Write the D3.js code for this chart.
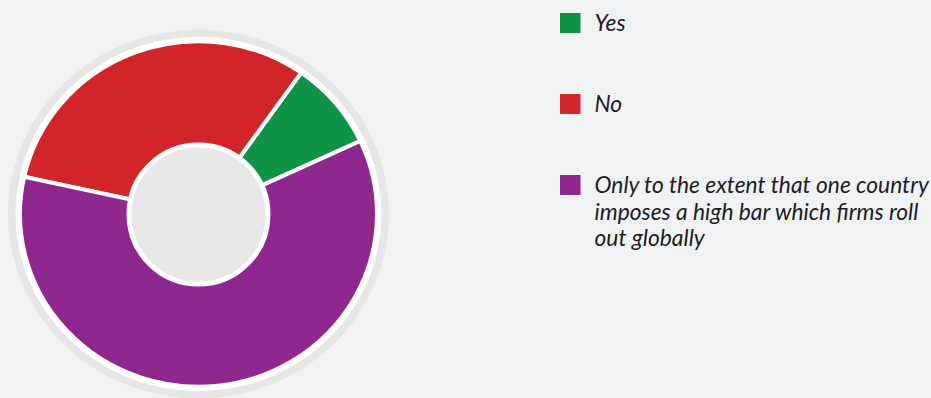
<!DOCTYPE html>
<html>
<head>
<meta charset="utf-8">
<script src="https://cdn.jsdelivr.net/npm/d3@7"></script>
<style>
  body { margin: 0; background: #f1f2f4; }
  svg { display: block; }
  .legend text { font-family: Lato, sans-serif; font-style: italic; font-size: 22.8px; fill: #1d1d1f; }
</style>
</head>
<body>
<div id="chart"></div>
<script>
// answers and their share of responses (%)
const categories = ["Yes", "No", "Only to the extent that one country imposes a high bar which firms roll out globally"];
const values = [8.3, 31.3, 60.4];
const colors = ["#0f9447", "#d1252a", "#8e278e"];

const width = 931, height = 398;
const cx = 198.5, cy = 214;

const svg = d3.select("#chart").append("svg")
    .attr("width", width)
    .attr("height", height);

// the ring is a touch squashed vertically in the original
let ring = svg.append("g")
    .attr("transform", "translate(" + cx + "," + cy + ") scale(1,0.968)");

ring.append("circle").attr("r", 190.5).attr("fill", "#e6e6e7");
ring.append("circle").attr("r", 183).attr("fill", "#ffffff");

let pie = d3.pie()
    .sort(null)
    .startAngle(65 * Math.PI / 180)
    .endAngle((65 - 360) * Math.PI / 180);

let arc = d3.arc()
    .innerRadius(55)
    .outerRadius(178.5);

ring.selectAll(".slice")
    .data(pie(values))
    .enter()
    .append("path")
    .attr("class", "slice")
    .attr("d", arc)
    .attr("fill", (d, i) => colors[i])
    .attr("stroke", "#ffffff")
    .attr("stroke-width", 4)
    .attr("vector-effect", "non-scaling-stroke");

// centre hole
svg.append("circle")
    .attr("cx", cx)
    .attr("cy", cy + 0.5)
    .attr("r", 69.5)
    .attr("fill", "#e8e8e8")
    .attr("stroke", "#ffffff")
    .attr("stroke-width", 5);

// legend
let legend = svg.append("g")
    .attr("class", "legend")
    .attr("transform", "translate(560,13)");

let y = d3.scalePoint()
    .domain(categories)
    .range([0, 162]);

let items = legend.selectAll(".item")
    .data(categories)
    .enter()
    .append("g")
    .attr("class", "item")
    .attr("transform", d => "translate(0," + y(d) + ")");

items.append("rect")
    .attr("width", 20.5)
    .attr("height", 20)
    .attr("fill", (d, i) => colors[i]);

items.append("text")
    .attr("x", 34.5)
    .attr("y", 18)
    .text(d => d)
    .call(wrap, 345);

function wrap(text, maxWidth) {
    text.each(function() {
        let t = d3.select(this);
        let words = t.text().split(/\s+/);
        let x = t.attr("x"), y0 = t.attr("y");
        t.text(null);
        let line = [];
        let lineNo = 0;
        let tspan = t.append("tspan").attr("x", x).attr("y", y0);
        words.forEach(w => {
            line.push(w);
            tspan.text(line.join(" "));
            if (tspan.node().getComputedTextLength() > maxWidth && line.length > 1) {
                line.pop();
                tspan.text(line.join(" "));
                line = [w];
                lineNo++;
                tspan = t.append("tspan")
                    .attr("x", x)
                    .attr("y", +y0 + lineNo * 26.7)
                    .text(w);
            }
        });
    });
}
</script>
</body>
</html>
